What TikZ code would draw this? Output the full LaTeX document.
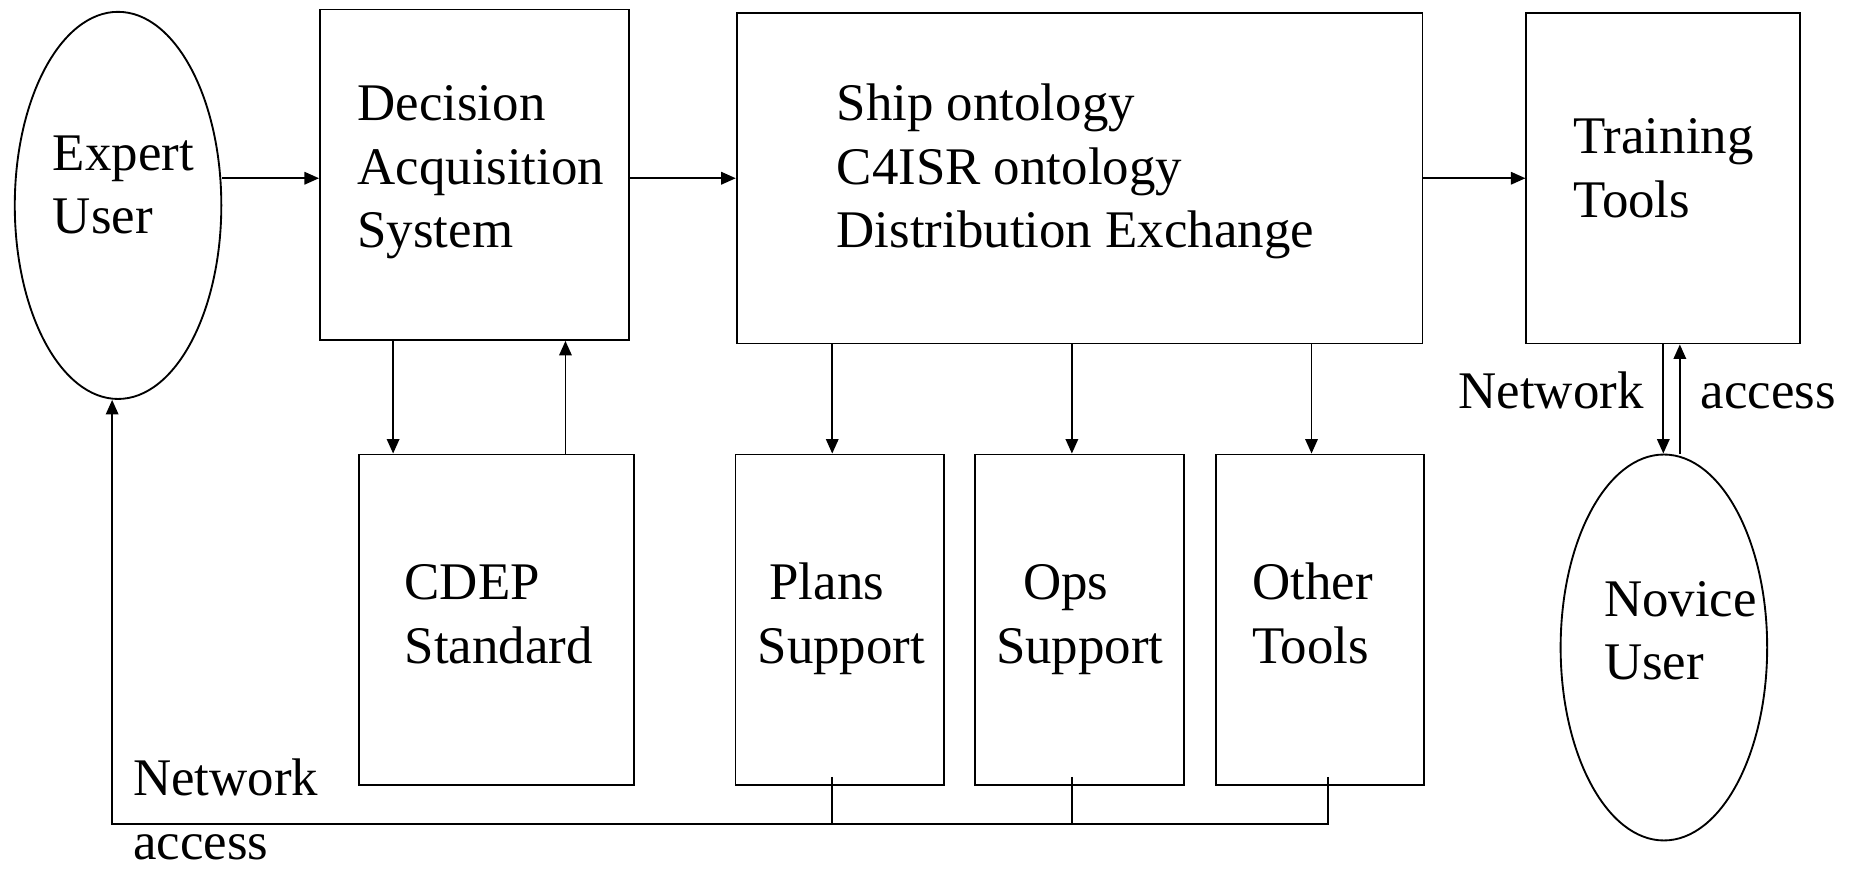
\documentclass[tikz,border=0pt]{standalone}
\usepackage{fontspec}
\setmainfont{Liberation Serif}
\usetikzlibrary{positioning, arrows.meta, shapes.geometric}

\begin{document}
\begin{tikzpicture}[
  x=0.02cm, y=-0.02cm,
  line width=0.9pt,
  box/.style={draw, rectangle, inner sep=0pt, minimum height=5.6cm},
  user/.style={draw, ellipse, inner sep=0pt, minimum width=3.5cm},
  txt/.style={anchor=base west, inner sep=0pt, align=left,
              font=\fontsize{25.5}{30.7}\selectfont},
  arr/.style={-{Triangle[length=7pt, width=6pt]}}
]
\useasboundingbox (0,0) rectangle (1568,739);

% top row
\node[user, minimum height=6.56cm] (expert) at (100,174) {};
\node[box, minimum width=5.24cm] (das) at (402,148) {};
\node[box, minimum width=11.62cm] (onto) at (914.5,151) {};
\node[box, minimum width=4.64cm] (train) at (1409,151) {};

% lower row
\node[box, minimum width=4.66cm] (cdep) at (420.5,525) {};
\node[box, minimum width=3.54cm] (plans) at (711.5,525) {};
\node[box, minimum width=3.54cm] (ops) at (914.5,525) {};
\node[box, minimum width=3.52cm] (other) at (1118,525) {};
\node[user, minimum height=6.54cm] (novice) at (1409.5,548.5) {};

% texts (placed by the baseline of their last line)
\node[txt] (expertlbl) at (44,198) {Expert\\User};
\node[txt] (daslbl) at (302,210) {Decision\\Acquisition\\System};
\node[txt] (ontolbl) at (708,210) {Ship ontology\\C4ISR ontology\\Distribution Exchange};
\node[txt] (trainlbl) at (1332,184) {Training\\Tools};
\node[txt] (cdeplbl) at (342,562) {CDEP\\Standard};
\node[txt] (planslbl) at (641,562) {\hspace*{5.7pt}Plans\\Support};
\node[txt] (opslbl) at (843,562) {\hspace*{13pt}Ops\\Support};
\node[txt] (otherlbl) at (1060,562) {Other\\Tools};
\node[txt] (novicelbl) at (1358,576) {Novice\\User};
\node[txt, anchor=base east] (netlbl) at (1393,346) {Network};
\node[txt] (acclbl) at (1440,346) {access};
\node[txt] (buslbl) at (112,728) {Network\\access};

% columns of the vertical links
\coordinate (k1) at (333,0);
\coordinate (k2) at (479,0);
\coordinate (k3) at (705,0);
\coordinate (k4) at (908,0);
\coordinate (k5) at (1111,0);
\coordinate (k6) at (1409,0);
\coordinate (k7) at (1423,0);

\draw[arr] (expert.east |- onto.west) -- (das.west |- onto.west);
\draw[arr] (das.east |- onto.west) -- (onto.west);
\draw[arr] (onto.east) -- (train.west);

\draw[arr] (das.south -| k1) -- (cdep.north -| k1);
\draw[arr] (cdep.north -| k2) -- (das.south -| k2);
\draw[arr] (onto.south -| k3) -- (plans.north -| k3);
\draw[arr] (onto.south -| k4) -- (ops.north -| k4);
\draw[arr] (onto.south -| k5) -- (other.north -| k5);
\draw[arr] (train.south -| k6) -- (novice.north -| k6);
\draw[arr] (novice.north -| k7) -- (train.south -| k7);

% network access back to the expert
\coordinate (bus) at (95,698);
\coordinate (d1) at (705,658);
\coordinate (d2) at (908,658);
\coordinate (d3) at (1125,658);
\draw (d1) -- (d1 |- bus);
\draw (d2) -- (d2 |- bus);
\draw[arr] (d3) |- (bus) -- (bus |- expert.south);
\end{tikzpicture}
\end{document}
